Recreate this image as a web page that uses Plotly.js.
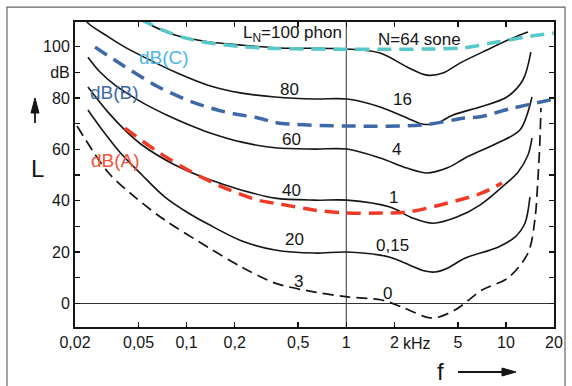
<!DOCTYPE html>
<html>
<head>
<meta charset="utf-8">
<script src="https://cdn.plot.ly/plotly-3.0.1.min.js"></script>
<style>html,body{margin:0;padding:0;background:#fff}#chart{width:572px;height:386px}</style>
</head>
<body>
<div id="chart"></div>
<script>
// ---- data (frequency in kHz, level in dB) ----
const f100 = [0.0511, 0.0565, 0.0846, 0.136, 0.22, 0.384, 1.01, 1.63, 2.40, 3.20, 4.03, 5.15, 7.60, 11.07, 13.74];
const L100 = [111.5, 109.3, 104.5, 101.9, 100.6, 99.5, 99.1, 97.5, 92.1, 88.9, 89.7, 93.6, 98.7, 103.4, 105.7];

const f80 = [0.0227, 0.0241, 0.0322, 0.0411, 0.0526, 0.0846, 0.136, 0.222, 0.358, 0.637, 1.01, 1.63, 2.40, 3.02, 3.70, 4.66, 6.87, 10.14, 12.77, 14.32];
const L80 = [111.9, 109.2, 103.9, 99.8, 96.3, 90.1, 85.0, 81.9, 80.4, 79.6, 79.6, 76.5, 72.2, 69.8, 70.2, 73.4, 76.5, 80.4, 87.0, 97.9];

const f60 = [0.0241, 0.0287, 0.0356, 0.0442, 0.0549, 0.0732, 0.105, 0.136, 0.222, 0.358, 0.637, 1.01, 1.63, 2.40, 3.20, 4.27, 5.70, 8.79, 12.22, 14.56];
const L60 = [95.9, 90.1, 85.0, 81.1, 77.6, 73.7, 69.4, 66.7, 62.8, 60.6, 60.1, 60.1, 56.6, 52.7, 50.8, 52.7, 57.0, 62.4, 67.5, 80.4];

const f40 = [0.0241, 0.0322, 0.0411, 0.0526, 0.0846, 0.136, 0.222, 0.358, 0.637, 1.01, 1.88, 2.61, 3.49, 4.93, 6.87, 9.44, 11.89, 13.74, 14.56];
const L40 = [84.3, 74.5, 67.5, 61.7, 53.9, 48.4, 44.1, 41.0, 40.2, 40.2, 37.5, 33.2, 31.2, 33.6, 38.3, 45.3, 51.1, 57.8, 64.4];

const f20 = [0.0241, 0.0287, 0.0382, 0.0526, 0.0732, 0.105, 0.136, 0.222, 0.358, 0.637, 1.01, 1.88, 2.33, 3.11, 3.59, 4.33, 5.53, 8.91, 11.38, 13.15, 14.13];
const L20 = [75.3, 68.7, 58.9, 50.0, 41.4, 34.8, 30.9, 24.3, 20.8, 19.6, 20.0, 18.0, 15.7, 12.6, 12.2, 13.8, 17.6, 21.9, 25.8, 31.2, 41.4];

const fThr = [0.0206, 0.0322, 0.0475, 0.0732, 0.136, 0.222, 0.358, 0.637, 1.02, 1.67, 2.23, 3.44, 4.79, 7.08, 10.28, 13.74, 15.17, 15.85, 16.33, 16.56];
const LThr = [69.1, 51.1, 41.4, 32.4, 21.9, 14.1, 7.9, 4.4, 2.5, 1.3, -1.4, -5.7, -2.6, 5.2, 9.9, 19.6, 32.4, 48.0, 63.6, 76.1];

const fA = [0.0411, 0.0662, 0.108, 0.174, 0.280, 0.384, 0.637, 1.01, 1.67, 2.43, 4.33, 7.08, 9.44];
const LA = [68.3, 59.0, 51.1, 44.9, 40.2, 38.7, 36.3, 35.2, 35.2, 35.6, 39.1, 43.0, 46.9];

const fB = [0.0267, 0.0411, 0.0662, 0.108, 0.174, 0.280, 0.384, 1.01, 3.02, 5.53, 6.87, 11.07, 19.95];
const LB = [99.8, 92.2, 84.4, 78.5, 74.6, 72.2, 70.2, 69.1, 69.5, 72.2, 72.7, 76.1, 79.5];

const fC = [0.0511, 0.0573, 0.0732, 0.0977, 0.140, 0.222, 0.358, 0.575, 1.01, 1.63, 3.34, 5.38, 8.79, 13.15, 19.95];
const LC = [110.7, 109.2, 106.1, 103.4, 101.4, 100.0, 99.3, 99.1, 99.0, 99.0, 99.1, 99.5, 101.8, 103.7, 105.3];

const xTickVals = [0.02, 0.05, 0.1, 0.2, 0.5, 1, 2, 5, 10, 20];
const xTickText = ['0,02', '0,05', '0,1', '0,2', '0,5', '1', '2', '5', '10', '20'];
const yTickVals = [0, 20, 40, 60, 80, 90, 100];
const yTickText = ['0', '20', '40', '60', '80', 'dB', '100'];
const yMinorVals = [10, 30, 50, 70];

// ---- drawing ----
const ink = '#151515';
function solid(x, y) {
  return {x: x, y: y, type: 'scatter', mode: 'lines', hoverinfo: 'skip',
          line: {color: ink, width: 1.6, shape: 'spline', smoothing: 0.9}};
}
function dashed(x, y, color, width, dash) {
  return {x: x, y: y, type: 'scatter', mode: 'lines', hoverinfo: 'skip',
          line: {color: color, width: width, dash: dash, shape: 'spline', smoothing: 0.9}};
}

const traces = [
  {x: [1, 1], y: [-20, 130], type: 'scatter', mode: 'lines', hoverinfo: 'skip',
   line: {color: '#333', width: 1}},
  solid(f100, L100), solid(f80, L80), solid(f60, L60), solid(f40, L40), solid(f20, L20),
  dashed(fThr, LThr, ink, 1.7, '11px,6px'),
  dashed(fC, LC, '#56c8c8', 3.5, '14px,8px'),
  dashed(fB, LB, '#3e69a6', 3.5, '14px,8px'),
  dashed(fA, LA, '#f03a26', 3.5, '14px,8px')
];

const narrow = '"Liberation Sans Narrow", "Liberation Sans", Arial, sans-serif';
const regular = '"Liberation Sans", Arial, sans-serif';
const txtFont = {family: narrow, size: 17, color: ink};
function lab(text, f, L, extra) {
  return Object.assign({x: Math.log10(f), y: L, xref: 'x', yref: 'y', text: text,
                        xanchor: 'center', yanchor: 'middle',
                        showarrow: false, font: txtFont}, extra || {});
}
const annotations = [
  lab('L<sub>N</sub>=100 phon', 0.965, 104.9, {xanchor: 'right'}),
  lab('N=64 sone', 2.89, 102.6),
  lab('80', 0.444, 83.5), lab('16', 2.26, 79.6),
  lab('60', 0.457, 64.0), lab('4', 2.05, 60.1),
  lab('40', 0.457, 44.1), lab('1', 1.99, 41.4),
  lab('20', 0.477, 24.7), lab('0,15', 1.96, 22.7),
  lab('3', 0.505, 8.7), lab('0', 1.80, 4.0),
  lab('dB(C)', 0.0722, 95.9, {font: {family: regular, size: 19, color: '#4bb8e8'}}),
  lab('dB(B)', 0.0351, 82.3, {font: {family: regular, size: 19, color: '#3e69a6'}}),
  lab('dB(A)', 0.0361, 55.8, {font: {family: regular, size: 19, color: '#f2553a'}}),
  {x: Math.log10(2.79), y: -0.0525, xref: 'x', yref: 'paper', text: 'kHz', showarrow: false,
   xanchor: 'center', yanchor: 'middle', font: {family: narrow, size: 16, color: ink}},
  {x: 0.764, y: -0.1475, xref: 'paper', yref: 'paper', text: 'f', showarrow: false,
   xanchor: 'center', yanchor: 'middle', font: {family: regular, size: 24, color: ink}},
  {x: -0.0793, y: 0.521, xref: 'paper', yref: 'paper', text: 'L', showarrow: false,
   xanchor: 'center', yanchor: 'middle', font: {family: regular, size: 24, color: ink}}
];

const tickFont = {family: narrow, size: 16, color: ink};
const layout = {
  width: 572, height: 386,
  margin: {l: 75, r: 18, t: 22, b: 59, pad: 0},
  paper_bgcolor: '#fff', plot_bgcolor: '#fff',
  showlegend: false,
  xaxis: {type: 'log', range: [Math.log10(0.02), Math.log10(20)],
          tickmode: 'array', tickvals: xTickVals, ticktext: xTickText, tickfont: tickFont,
          ticks: 'inside', ticklen: 5, tickwidth: 1.5, tickcolor: ink,
          showline: true, linecolor: ink, linewidth: 2, mirror: 'ticks',
          showgrid: false, zeroline: false},
  yaxis: {range: [-9.2, 109.6], tickmode: 'array', tickvals: yTickVals, ticktext: yTickText, tickfont: tickFont,
          ticks: 'inside', ticklen: 5, tickwidth: 1.5, tickcolor: ink,
          minor: {tickmode: 'array', tickvals: yMinorVals, ticks: 'inside', ticklen: 5,
                  tickwidth: 1.5, tickcolor: ink, showgrid: false},
          showline: true, linecolor: ink, linewidth: 2, mirror: 'ticks',
          showgrid: false, zeroline: true, zerolinecolor: '#333', zerolinewidth: 1},
  annotations: annotations,
  shapes: [
    {type: 'rect', xref: 'paper', yref: 'paper', x0: -0.142, x1: 1.023, y0: -0.25, y1: 1.049,
     line: {color: '#666', width: 1.2}, fillcolor: 'rgba(0,0,0,0)', layer: 'below'},
    // arrow beside "L"
    {type: 'line', xref: 'paper', yref: 'paper', x0: -0.08351, x1: -0.08351, y0: 0.6689, y1: 0.7100,
     line: {color: ink, width: 1.8}},
    {type: 'path', xref: 'paper', yref: 'paper',
     path: 'M -0.08351 0.7508 L -0.09186 0.7016 L -0.07516 0.7016 Z',
     fillcolor: ink, line: {color: ink, width: 1}},
    // arrow beside "f"
    {type: 'line', xref: 'paper', yref: 'paper', x0: 0.7996, x1: 0.8950, y0: -0.14754, y1: -0.14754,
     line: {color: ink, width: 1.8}},
    {type: 'path', xref: 'paper', yref: 'paper',
     path: 'M 0.9207 -0.14754 L 0.8914 -0.13443 L 0.8914 -0.16066 Z',
     fillcolor: ink, line: {color: ink, width: 1}}
  ]
};

Plotly.newPlot('chart', traces, layout, {staticPlot: true, displayModeBar: false});
</script>
</body>
</html>
